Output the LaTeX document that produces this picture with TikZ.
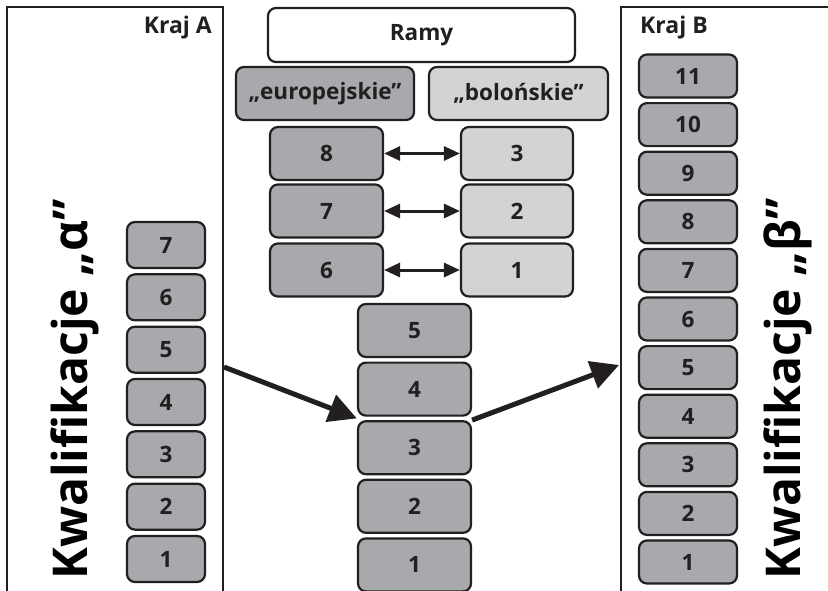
\documentclass[tikz,border=0pt]{standalone}
\usepackage{fontspec}
\setmainfont{Open Sans}
\usetikzlibrary{arrows.meta,calc}
\definecolor{ink}{HTML}{231F20}
\definecolor{darkfill}{HTML}{A7A9AC}
\definecolor{lightfill}{HTML}{D1D3D4}
\tikzset{
  x=1pt, y=-1pt,
  box/.style={draw=ink, line width=2.2pt, rounded corners=8pt, text=ink,
    font=\bfseries\fontsize{22.5}{26}\selectfont, inner sep=0pt},
  dbox/.style={box, fill=darkfill},
  lbox/.style={box, fill=lightfill},
  colA/.style={dbox, minimum width=78pt, minimum height=46pt},
  colM/.style={dbox, minimum width=113pt, minimum height=53pt},
  colB/.style={dbox, minimum width=98pt, minimum height=43pt},
  panel/.style={draw=ink, line width=1.8pt},
  pairarrow/.style={draw=ink, line width=3pt, {Triangle[length=16pt,width=14pt]}-{Triangle[length=16pt,width=14pt]}},
  bigarrow/.style={draw=ink, line width=5pt, -{Triangle[length=28pt,width=28pt]}},
  tag/.style={text=ink, font=\bfseries\fontsize{23}{26}\selectfont, inner sep=0pt},
  sidetitle/.style={text=black, font=\bfseries\fontsize{48}{52}\selectfont, inner sep=0pt, rotate=90, anchor=base west}
}
\begin{document}
\begin{tikzpicture}
\useasboundingbox (0,0) rectangle (828,590);
\fill[white] (0,0) rectangle (828,590);

% country panels
\draw[panel] (7,592) -- (7,7) -- (223,7) -- (223,592);
\draw[panel] (621,592) -- (621,7) -- (830,7);
\node[tag, anchor=east] (krajA) at (212,28) {Kraj A};
\node[tag, anchor=west] (krajB) at (640,28) {Kraj B};

% side titles
\node[sidetitle] (titleA) at (87,580) {Kwalifikacje „α”};
\node[sidetitle] (titleB) at (800,580) {Kwalifikacje „β”};

% country A levels
\foreach \n [count=\i from 0] in {7,6,5,4,3,2,1}
  \node[colA] (a\n) at (166,245+52.33*\i) {\n};

% country B levels
\foreach \n [count=\i from 0] in {11,10,9,8,7,6,5,4,3,2,1}
  \node[colB] (b\n) at (688,76+48.6*\i) {\n};

% frameworks
\node[box, fill=white, minimum width=307pt, minimum height=54pt] (ramy) at (421.5,35) {Ramy};
\node[dbox, minimum width=178pt, minimum height=53pt] (eu) at (325,93.5) {„europejskie”};
\node[lbox, minimum width=179pt, minimum height=53pt] (bo) at (518.5,93.5) {„bolońskie”};

\node[dbox, minimum width=113pt, minimum height=53pt] (e8) at (326.5,153.5) {8};
\node[dbox, minimum width=113pt, minimum height=53pt] (e7) at (326.5,211) {7};
\node[dbox, minimum width=113pt, minimum height=53pt] (e6) at (326.5,270) {6};
\node[lbox, minimum width=112pt, minimum height=53pt] (o3) at (517,153.5) {3};
\node[lbox, minimum width=112pt, minimum height=53pt] (o2) at (517,211) {2};
\node[lbox, minimum width=112pt, minimum height=53pt] (o1) at (517,270) {1};

\draw[pairarrow] (e8) -- (o3);
\draw[pairarrow] (e7) -- (o2);
\draw[pairarrow] (e6) -- (o1);

% shared levels
\foreach \n [count=\i from 0] in {5,4,3,2,1}
  \node[colM] (m\n) at (414.5,330.5+58.6*\i) {\n};

% transfer arrows
\coordinate (fromA) at (224,367);
\coordinate (intoM) at ($(m4.south west)!0.5!(m3.north west)$);
\coordinate (toB) at (619,365);
\draw[bigarrow] (fromA) -- (intoM);
\draw[bigarrow] (m3.north east) -- (toB);
\end{tikzpicture}
\end{document}
